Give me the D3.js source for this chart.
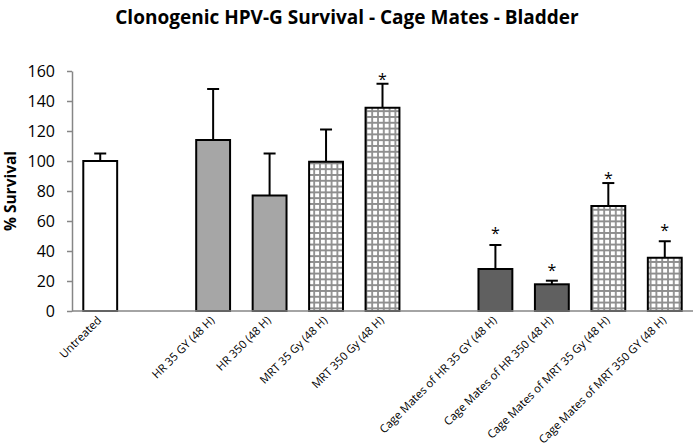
<!DOCTYPE html>
<html><head><meta charset="utf-8">
<script src="https://cdn.jsdelivr.net/npm/d3@7"></script>
<style>body{margin:0;background:#fff}svg{display:block}</style>
</head><body>
<svg id="chart" width="694" height="448"></svg>
<script>
// ---- data ----
const categories = ["Untreated", null, "HR 35 GY (48 H)", "HR 350 (48 H)", "MRT 35 Gy (48 H)", "MRT 350 Gy (48 H)", null,
  "Cage Mates of HR 35 GY (48 H)", "Cage Mates of HR 350 (48 H)", "Cage Mates of MRT 35 Gy (48 H)", "Cage Mates of MRT 350 GY (48 H)"];
const values = [100, null, 114, 77, 99.5, 135.5, null, 28, 17.8, 70, 35.5];
const errors = [5, null, 34, 28, 21.5, 16, null, 16, 2.4, 15.3, 11];
const groups = ["control", null, "HR", "HR", "MRT", "MRT", null, "cmHR", "cmHR", "cmMRT", "cmMRT"];
// level (in % units) at which a significance asterisk is drawn; null = none
const starLevels = [null, null, null, null, null, 157, null, 54, 29.5, 90.5, 56];
const yTicks = [0, 20, 40, 60, 80, 100, 120, 140, 160];
const title = "Clonogenic HPV-G Survival - Cage Mates - Bladder";
const yTitle = "% Survival";

const fills = {control: "#ffffff", HR: "#a6a6a6", MRT: "url(#grid)", cmHR: "#606060", cmMRT: "url(#grid)"};

const svg = d3.select("#chart");
const font = "'Open Sans', sans-serif";

const defs = svg.append("defs");
const pat = defs.append("pattern").attr("id", "grid").attr("patternUnits", "userSpaceOnUse")
  .attr("width", 5.8).attr("height", 5.8);
pat.append("rect").attr("width", 5.8).attr("height", 5.8).attr("fill", "#fff");
pat.append("path").attr("d", "M0,1H5.8M1,0V5.8").attr("stroke", "#8e8e8e").attr("stroke-width", 1.8);

const x = d3.scaleBand().domain(d3.range(categories.length)).range([72, 693]).paddingInner(0.4).paddingOuter(0.2);
const y = d3.scaleLinear().domain([0, 160]).range([311, 71]);

// title
svg.append("text").attr("x", 347).attr("y", 24).attr("text-anchor", "middle")
  .attr("font-family", font).attr("font-weight", "bold").attr("font-size", 19).text(title);

// y axis
const yAxis = svg.append("g").attr("transform", `translate(${x.range()[0]},0)`)
  .call(d3.axisLeft(y).tickValues(yTicks).tickSize(5).tickPadding(12).tickSizeOuter(0));
yAxis.select(".domain").attr("stroke", "#868686").attr("stroke-width", 1.5);
yAxis.selectAll(".tick line").attr("stroke", "#868686").attr("stroke-width", 1.5);
yAxis.selectAll(".tick text").attr("font-family", font).attr("font-size", 16).attr("fill", "#000");

svg.append("text").attr("transform", "translate(16,191) rotate(-90)").attr("text-anchor", "middle")
  .attr("font-family", font).attr("font-weight", "bold").attr("font-size", 15.5).text(yTitle);

const idx = d3.range(categories.length).filter(i => values[i] != null);

// error bars (upper only)
const eb = svg.append("g");
idx.forEach(i => {
  const cx = x(i) + x.bandwidth() / 2;
  eb.append("line").attr("x1", cx).attr("x2", cx).attr("y1", y(values[i])).attr("y2", y(values[i] + errors[i]))
    .attr("stroke", "#000").attr("stroke-width", 2);
  eb.append("line").attr("x1", cx - 6).attr("x2", cx + 6).attr("y1", y(values[i] + errors[i])).attr("y2", y(values[i] + errors[i]))
    .attr("stroke", "#000").attr("stroke-width", 2);
});

// bars
svg.append("g").selectAll("rect").data(idx).join("rect")
  .attr("x", i => x(i)).attr("width", x.bandwidth())
  .attr("y", i => y(values[i])).attr("height", i => y(0) - y(values[i]))
  .attr("fill", i => fills[groups[i]]).attr("stroke", "#000").attr("stroke-width", 2);

// x axis line
svg.append("line").attr("x1", x.range()[0]).attr("x2", x.range()[1]).attr("y1", y(0)).attr("y2", y(0))
  .attr("stroke", "#868686").attr("stroke-width", 1.5);

// asterisks
svg.append("g").selectAll("text").data(idx.filter(i => starLevels[i] != null)).join("text")
  .attr("x", i => x(i) + x.bandwidth() / 2).attr("y", i => y(starLevels[i]) + 9)
  .attr("text-anchor", "middle").attr("font-family", font).attr("font-size", 16).text("*");

// x labels
svg.append("g").selectAll("text").data(idx).join("text")
  .attr("transform", i => `translate(${x(i) + x.bandwidth() / 2 + 2},321) rotate(-45)`)
  .attr("text-anchor", "end").attr("font-family", font).attr("font-size", 11.3).text(i => categories[i]);
</script>
</body></html>
